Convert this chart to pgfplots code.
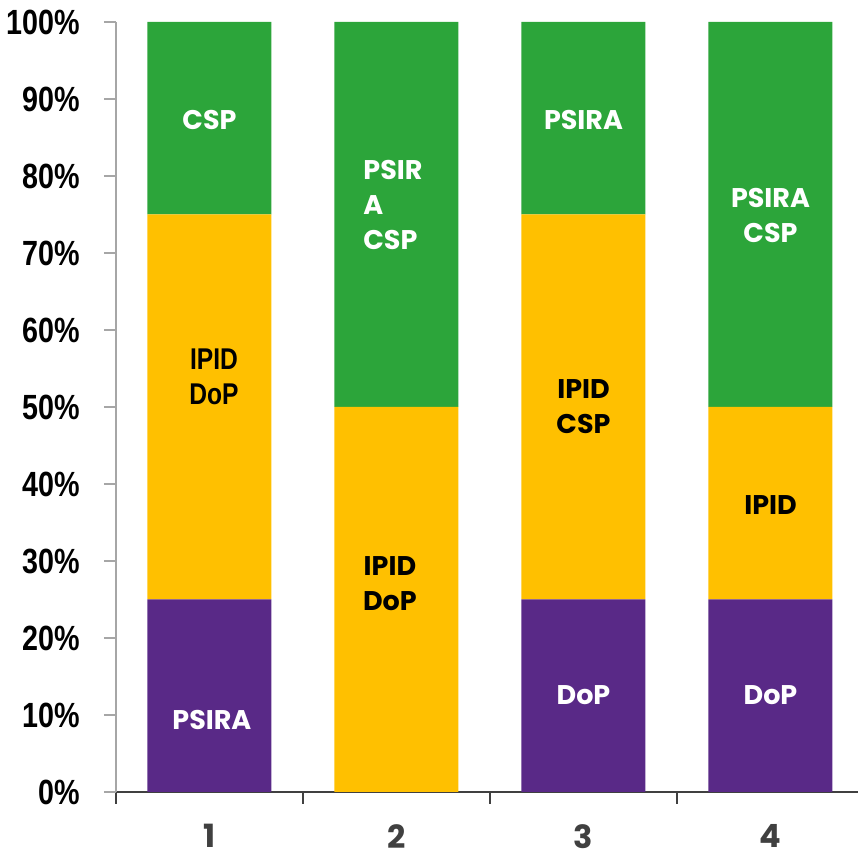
\documentclass[border=0pt]{standalone}
\usepackage{graphicx}
\usepackage{pgfplots}
\pgfplotsset{compat=1.18}
\usepackage{fontspec}
\setmainfont{Liberation Sans}
\newfontfamily\gothic{Poppins}
\definecolor{cgreen}{RGB}{44,165,58}
\definecolor{cyellow}{RGB}{255,192,0}
\definecolor{cpurple}{RGB}{89,41,135}
\definecolor{axgray}{RGB}{64,64,64}
\newcommand{\nar}[1]{\scalebox{0.82}[1]{#1}}
\tikzset{wl/.style={font=\gothic\bfseries\fontsize{13.5}{17.5}\selectfont, text=white, align=center, inner sep=0pt},
         bl/.style={font=\gothic\bfseries\fontsize{13.5}{17.5}\selectfont, text=black, align=center, inner sep=0pt}}
\begin{document}
\begin{tikzpicture}
\useasboundingbox (-58pt,-32.5pt) rectangle (371pt,396pt);
\begin{axis}[
  scale only axis, width=371pt, height=385pt,
  xmin=0.5, xmax=4.468, ymin=0, ymax=100,
  ybar stacked, bar width=62pt,
  axis x line*=bottom, axis y line*=left,
  x axis line style={draw=axgray, line width=1pt},
  y axis line style={draw=gray!70, line width=0.8pt},
  tick align=outside,
  major tick length=6pt,
  xtick={0.5,1.5,2.5,3.5}, xticklabels={},
  extra x ticks={1,2,3,4}, extra x tick labels={1,2,3,4},
  extra x tick style={major tick length=0pt, tick style={draw=none}},
  xticklabel style={font=\gothic\bfseries\fontsize{16}{16}\selectfont, text=axgray, anchor=north, inner sep=0pt, yshift=-16pt},
  x tick style={draw=axgray, line width=0.8pt},
  y tick style={draw=gray!70, line width=0.8pt},
  ytick={0,10,...,100},
  yticklabels={\nar{0\%},\nar{10\%},\nar{20\%},\nar{30\%},\nar{40\%},\nar{50\%},\nar{60\%},\nar{70\%},\nar{80\%},\nar{90\%},\nar{100\%}},
  yticklabel style={font=\bfseries\fontsize{17.5}{17.5}\selectfont, anchor=east, inner sep=0pt, xshift=-12pt},
  clip=false,
]
\addplot[fill=cpurple, draw=none] coordinates {(1,25) (2,0) (3,25) (4,25)};
\addplot[fill=cyellow, draw=none] coordinates {(1,50) (2,50) (3,50) (4,25)};
\addplot[fill=cgreen, draw=none] coordinates {(1,25) (2,50) (3,25) (4,50)};
\coordinate (a1) at (axis cs:1,87.3);
\coordinate (a2) at (axis cs:1.024,53.9);
\coordinate (a3) at (axis cs:1.013,9.35);
\coordinate (b1) at (axis cs:1.821,76.2);
\coordinate (b2) at (axis cs:1.965,27.1);
\coordinate (c1) at (axis cs:3,87.3);
\coordinate (c2) at (axis cs:3,50);
\coordinate (c3) at (axis cs:3,12.6);
\coordinate (d1) at (axis cs:4,74.9);
\coordinate (d2) at (axis cs:4,37.3);
\coordinate (d3) at (axis cs:4,12.6);
\end{axis}
\node[wl] at (a1) {CSP};
\node[font=\bfseries\fontsize{15}{17.5}\selectfont, align=center, inner sep=0pt] at (a2) {\nar{IPID}\\\nar{DoP}};
\node[wl] at (a3) {PSIRA};
\node[wl, align=left, anchor=west] at (b1) {PSIR\\A\\CSP};
\node[bl] at (b2) {IPID\\DoP};
\node[wl] at (c1) {PSIRA};
\node[bl] at (c2) {IPID\\CSP};
\node[wl] at (c3) {DoP};
\node[wl] at (d1) {PSIRA\\CSP};
\node[bl] at (d2) {IPID};
\node[wl] at (d3) {DoP};
\end{tikzpicture}
\end{document}
